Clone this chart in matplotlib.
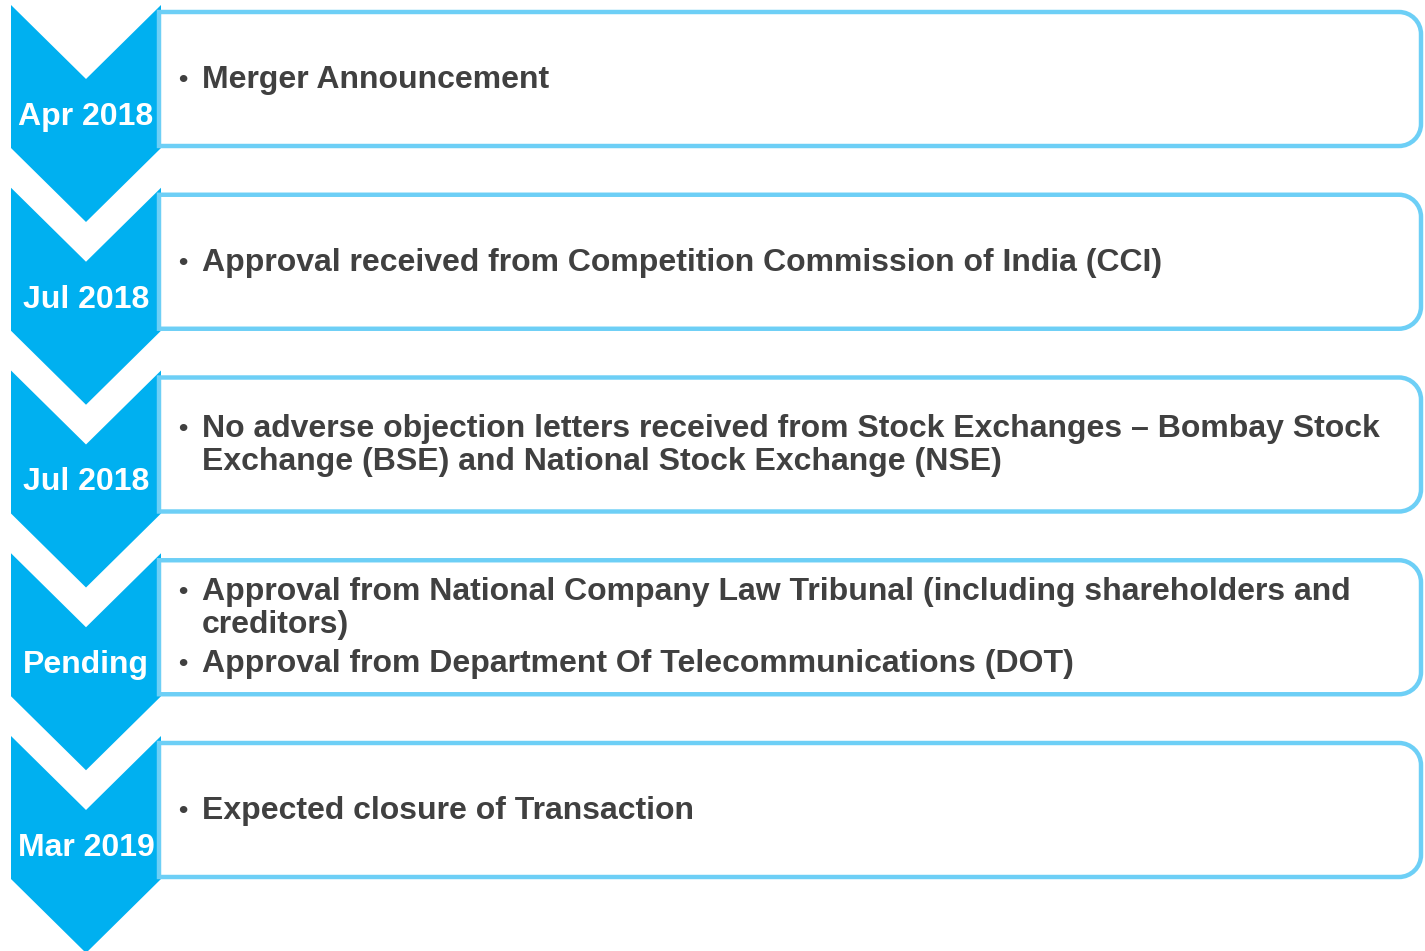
import matplotlib.pyplot as plt
from matplotlib.patches import Polygon, PathPatch
from matplotlib.path import Path

# milestone dates and the bullet text beside each chevron
dates = ['Apr 2018', 'Jul 2018', 'Jul 2018', 'Pending', 'Mar 2019']
items = [
    [['Merger Announcement']],
    [['Approval received from Competition Commission of India (CCI)']],
    [['No adverse objection letters received from Stock Exchanges \u2013 Bombay Stock',
      'Exchange (BSE) and National Stock Exchange (NSE)']],
    [['Approval from National Company Law Tribunal (including shareholders and',
      'creditors)'],
     ['Approval from Department Of Telecommunications (DOT)']],
    [['Expected closure of Transaction']],
]

CHEVRON = '#00B0F0'
BORDER = '#6DCFF6'
TEXT = '#404040'
plt.rcParams['font.family'] = ['Liberation Sans', 'DejaVu Sans']
FS = 23

W, H = 1425, 951
fig = plt.figure(figsize=(W / 100, H / 100), dpi=100)
ax = fig.add_axes([0, 0, 1, 1])
ax.set_xlim(0, W)
ax.set_ylim(H, 0)
ax.axis('off')

step = 182.75
x0, x1, xm = 11, 161, 86
depth = 74
body = 143
box_r = 1421
rad = 22


def box_path(left, top, right, bottom, r):
    # square on the left (it sits against the chevron), rounded on the right
    k = 0.55 * r
    verts = [(left, top), (right - r, top),
             (right - r + k, top), (right, top + r - k), (right, top + r),
             (right, bottom - r),
             (right, bottom - r + k), (right - r + k, bottom), (right - r, bottom),
             (left, bottom), (left, top)]
    codes = [Path.MOVETO, Path.LINETO,
             Path.CURVE4, Path.CURVE4, Path.CURVE4,
             Path.LINETO,
             Path.CURVE4, Path.CURVE4, Path.CURVE4,
             Path.LINETO, Path.CLOSEPOLY]
    return Path(verts, codes)


for i, (d, bullets) in enumerate(zip(dates, items)):
    top = 5 + i * step
    chev = Polygon([(x0, top), (xm, top + depth), (x1, top), (x1, top + body),
                    (xm, top + body + depth), (x0, top + body)],
                   closed=True, facecolor=CHEVRON, edgecolor='none', zorder=1)
    ax.add_patch(chev)

    btop, bbot = top + 7, top + 141
    ax.add_patch(PathPatch(box_path(159, btop, box_r, bbot, rad), facecolor='white',
                           edgecolor=BORDER, lw=3.2, zorder=2))

    ax.text(xm, top + 112, d, color='white', fontsize=FS, fontweight='bold',
            ha='center', va='center', zorder=3)

    # lay out the bullet lines centred in the box
    gaps = []
    n = 0
    for b in bullets:
        for j in range(len(b)):
            if n > 0:
                gaps.append(33 if j > 0 else 39)
            n += 1
    total = sum(gaps)
    y = (btop + bbot) / 2 - total / 2 + 1
    g = 0
    for b in bullets:
        for j, line in enumerate(b):
            if j == 0:
                ax.text(183, y, '\u2022', color=TEXT, fontsize=19, fontweight='bold',
                        ha='center', va='center', zorder=3)
            ax.text(202, y, line, color=TEXT, fontsize=FS, fontweight='bold',
                    ha='left', va='center', zorder=3)
            if g < len(gaps):
                y += gaps[g]
                g += 1

fig.savefig('out.png', dpi=100)
